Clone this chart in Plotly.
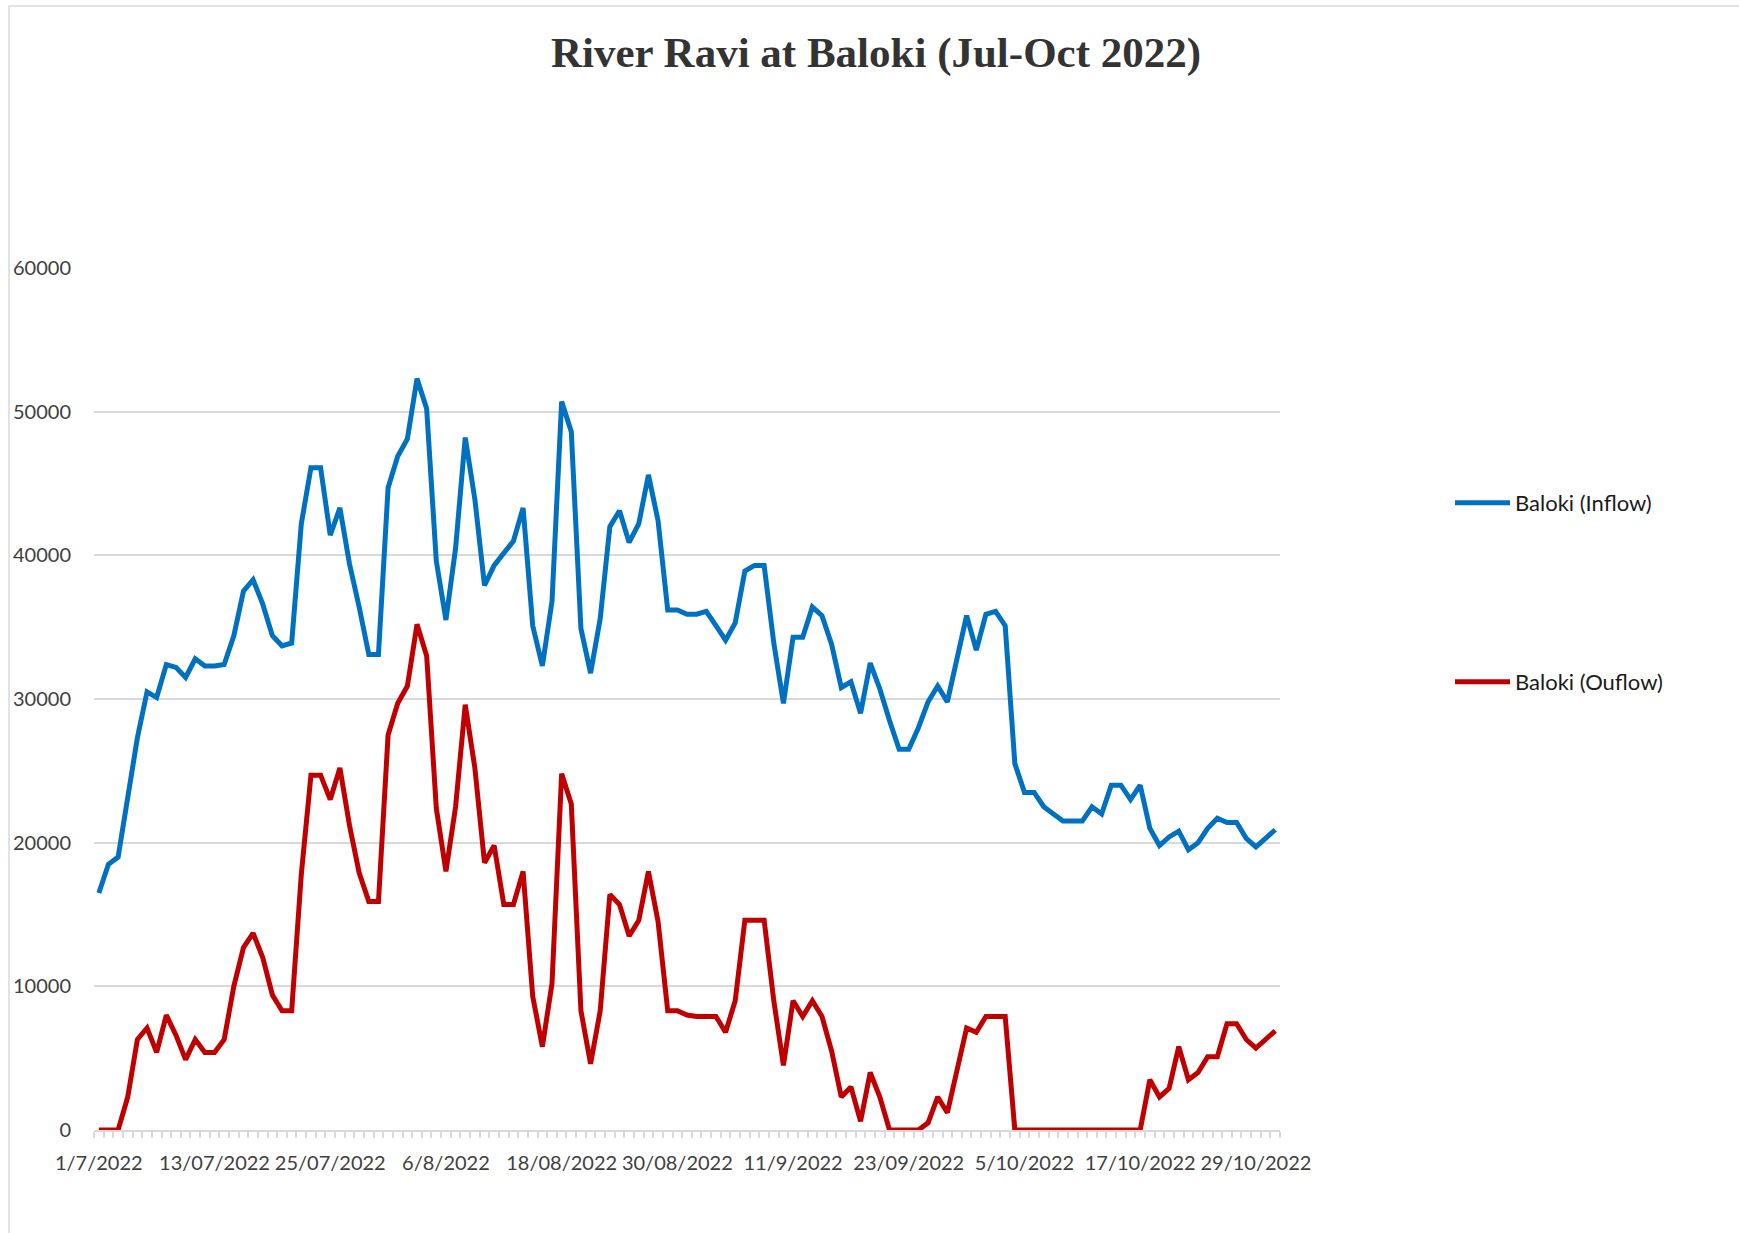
import pandas as pd
import plotly.graph_objects as go

# Daily discharge at Baloki headworks, River Ravi, 1 Jul - 31 Oct 2022 (cusecs)
start_date = "2022-07-01"

inflow = [
    16500, 18500, 19000, 23400, 27300, 30500, 30100, 32400, 32200, 31500,
    32800, 32300, 32300, 32400, 34400, 37500, 38300, 36600, 34400, 33700,
    33900, 42200, 46100, 46100, 41400, 43300, 39400, 36400, 33100, 33100,
    44700, 46900, 48100, 52300, 50200, 39600, 35500, 40500, 48200, 43900,
    37900, 39300, 40200, 41000, 43300, 35100, 32300, 36800, 50700, 48600,
    34900, 31800, 35600, 42000, 43100, 40900, 42200, 45600, 42400, 36200,
    36200, 35900, 35900, 36100, 35100, 34100, 35300, 38900, 39300, 39300,
    33900, 29700, 34300, 34300, 36400, 35800, 33800, 30800, 31200, 29000,
    32500, 30700, 28500, 26500, 26500, 28000, 29800, 30900, 29800, 32800,
    35800, 33400, 35900, 36100, 35100, 25500, 23500, 23500, 22500, 22000,
    21500, 21500, 21500, 22500, 22000, 24000, 24000, 23000, 24000, 21000,
    19800, 20400, 20800, 19500, 20000, 21000, 21700, 21400, 21400, 20300,
    19700, 20300, 20900,
]

outflow = [
    0, 0, 0, 2300, 6300, 7100, 5400, 8000, 6600, 4900,
    6300, 5400, 5400, 6300, 10000, 12700, 13700, 12000, 9400, 8300,
    8300, 17800, 24700, 24700, 23000, 25200, 21200, 17900, 15900, 15900,
    27500, 29700, 30900, 35200, 33000, 22400, 18000, 22500, 29600, 25200,
    18600, 19800, 15700, 15700, 18000, 9300, 5800, 10200, 24800, 22700,
    8300, 4600, 8300, 16400, 15700, 13500, 14600, 18000, 14500, 8300,
    8300, 8000, 7900, 7900, 7900, 6800, 9000, 14600, 14600, 14600,
    9000, 4500, 9000, 7900, 9000, 7900, 5500, 2300, 3000, 600,
    4000, 2300, 0, 0, 0, 0, 500, 2300, 1200, 4100,
    7100, 6800, 7900, 7900, 7900, 0, 0, 0, 0, 0,
    0, 0, 0, 0, 0, 0, 0, 0, 0, 3500,
    2300, 2900, 5800, 3500, 4000, 5100, 5100, 7400, 7400, 6300,
    5700, 6300, 6900,
]

tick_labels = [
    "1/7/2022", "13/07/2022", "25/07/2022", "6/8/2022", "18/08/2022",
    "30/08/2022", "11/9/2022", "23/09/2022", "5/10/2022", "17/10/2022",
    "29/10/2022",
]

series_names = ["Baloki (Inflow)", "Baloki (Ouflow)"]
series_colors = ["#0070C0", "#C00000"]

dates = pd.date_range(start_date, periods=len(inflow), freq="D")
tick_vals = dates[::12][: len(tick_labels)]

# page geometry (pixels)
W, H = 1739, 1233
L, R, T, B = 94, 1280, 268, 1130
pw, ph = R - L, B - T


def px_x(px):
    return (px - L) / pw


def px_y(py):
    return (B - py) / ph


fig = go.Figure()
fig.add_trace(go.Scatter(
    x=dates, y=inflow, mode="lines", name=series_names[0],
    line=dict(color=series_colors[0], width=5), legend="legend",
))
fig.add_trace(go.Scatter(
    x=dates, y=outflow, mode="lines", name=series_names[1],
    line=dict(color=series_colors[1], width=5), legend="legend2",
))

legend_font = dict(family="Lato, 'Open Sans', sans-serif", size=22, color="#1a1a1a")
legend_common = dict(
    x=px_x(1450), xanchor="left", yanchor="middle",
    font=legend_font, bgcolor="rgba(0,0,0,0)", itemwidth=55,
)

fig.update_layout(
    width=W, height=H,
    margin=dict(l=L, r=W - R, t=T, b=H - B, pad=0),
    paper_bgcolor="white", plot_bgcolor="white",
    showlegend=True,
    title=dict(
        text="<b>River Ravi at Baloki (Jul-Oct 2022)</b>",
        x=876 / W, xanchor="center", xref="container",
        y=1 - 52 / H, yanchor="middle", yref="container",
        font=dict(family="'Liberation Serif', 'Times New Roman', serif", size=43, color="#333333"),
    ),
    legend=dict(y=px_y(503), **legend_common),
    legend2=dict(y=px_y(682), **legend_common),
    xaxis=dict(
        type="date",
        range=[dates[0] - pd.Timedelta(hours=12), dates[-1] + pd.Timedelta(hours=12)],
        tickmode="array", tickvals=tick_vals, ticktext=tick_labels,
        ticks="", ticklabelstandoff=14,
        tickfont=dict(family="Lato, 'Open Sans', sans-serif", size=20, color="#404040"),
        showgrid=False, zeroline=False,
        showline=True, linecolor="#d9d9d9", linewidth=1.5,
        minor=dict(
            ticks="outside", ticklen=6, tickcolor="#d9d9d9", tickwidth=1.5,
            tickmode="linear", tick0=dates[0] - pd.Timedelta(hours=12),
            dtick=86400000, showgrid=False,
        ),
        fixedrange=True,
    ),
    yaxis=dict(
        range=[0, 60000], tickmode="linear", tick0=0, dtick=10000,
        tickformat="d", ticks="", ticklabelstandoff=22,
        tickfont=dict(family="Lato, 'Open Sans', sans-serif", size=20, color="#404040"),
        showgrid=True, gridcolor="#d9d9d9", gridwidth=1.5,
        zeroline=False, showline=False, fixedrange=True,
    ),
    shapes=[dict(
        type="rect", xref="paper", yref="paper", layer="below",
        x0=px_x(9), x1=px_x(W + 20), y0=px_y(H + 20), y1=px_y(6),
        line=dict(color="#d9d9d9", width=1.5), fillcolor="rgba(0,0,0,0)",
    )],
)

fig.write_html("out.html")
